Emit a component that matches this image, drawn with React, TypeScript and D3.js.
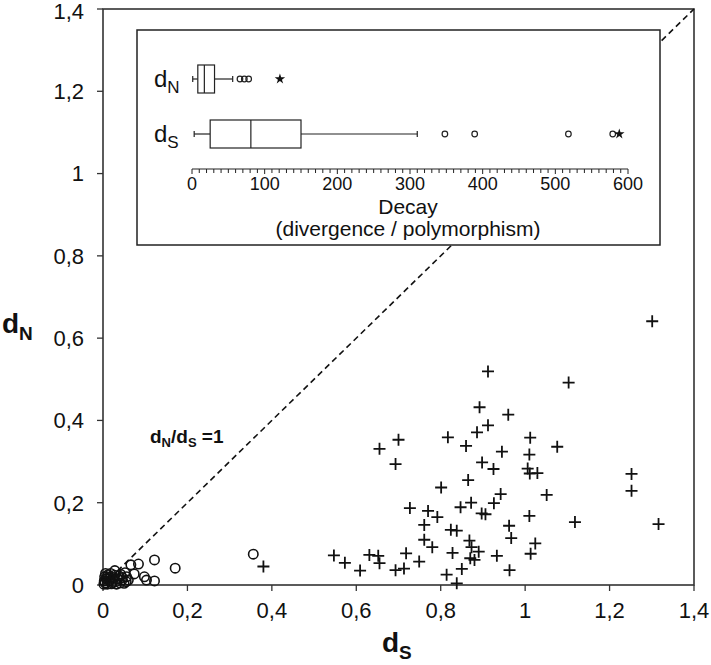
import * as d3 from "d3";

// main scatter: [dS, dN]
const axisTicks = [0, 0.2, 0.4, 0.6, 0.8, 1, 1.2, 1.4];

const circlePoints: [number, number][] = [
  [0.356, 0.075], [0.171, 0.041], [0.122, 0.061], [0.084, 0.051], [0.066, 0.049],
  [0.028, 0.035], [0.074, 0.027], [0.052, 0.030], [0.098, 0.020], [0.103, 0.012],
  [0.122, 0.010], [0.060, 0.012], [0.056, 0.020], [0.005, 0.005], [0.010, 0.020],
  [0.015, 0.010], [0.020, 0.003], [0.008, 0.015], [0.012, 0.025], [0.025, 0.018],
  [0.030, 0.008], [0.035, 0.015], [0.040, 0.005], [0.045, 0.012], [0.050, 0.004],
  [0.003, 0.010], [0.018, 0.028], [0.022, 0.006], [0.006, 0.028], [0.028, 0.024],
  [0.038, 0.022], [0.042, 0.026], [0.055, 0.008], [0.010, 0.002], [0.015, 0.018],
  [0.002, 0.002], [0.032, 0.002], [0.004, 0.020], [0.020, 0.014], [0.046, 0.018],
];

const crossPoints: [number, number][] = [
  [1.301, 0.641], [0.912, 0.519], [1.103, 0.492], [0.892, 0.432], [0.960, 0.414],
  [0.912, 0.388], [0.886, 0.371], [0.817, 0.359], [1.012, 0.358], [0.700, 0.353],
  [0.860, 0.338], [1.076, 0.336], [0.655, 0.331], [0.945, 0.324], [1.010, 0.317],
  [0.693, 0.294], [0.898, 0.298], [0.925, 0.282], [1.006, 0.283], [1.011, 0.271],
  [1.029, 0.272], [1.252, 0.270], [0.865, 0.255], [0.801, 0.237], [1.252, 0.229],
  [0.942, 0.221], [1.051, 0.219], [0.926, 0.199], [0.872, 0.200], [0.727, 0.187],
  [0.847, 0.189], [0.770, 0.180], [0.897, 0.174], [0.906, 0.172], [0.792, 0.165],
  [1.010, 0.168], [0.761, 0.146], [0.962, 0.144], [0.824, 0.134], [0.838, 0.132],
  [1.118, 0.153], [1.316, 0.148], [0.967, 0.114], [0.761, 0.110], [0.780, 0.092],
  [0.868, 0.108], [1.024, 0.101], [0.873, 0.092], [0.890, 0.081], [0.828, 0.078],
  [0.718, 0.077], [1.013, 0.076], [0.933, 0.071], [0.870, 0.065], [0.880, 0.061],
  [0.631, 0.073], [0.652, 0.071], [0.655, 0.053], [0.547, 0.072], [0.573, 0.054],
  [0.609, 0.035], [0.693, 0.036], [0.713, 0.040], [0.749, 0.057], [0.850, 0.039],
  [0.814, 0.025], [0.838, 0.004], [0.963, 0.036], [0.380, 0.045],
];

// inset box plot of decay
const boxCategories = ["N", "S"];
const boxMin = [1, 3];
const boxQ1 = [8, 25];
const boxMedian = [17, 81];
const boxQ3 = [31, 150];
const boxMax = [56, 310];
const boxOutliers = [[66, 72, 78], [348, 389, 518, 579]];
const boxExtremes = [[121], [588]];
const decayTicks = [0, 100, 200, 300, 400, 500, 600];

const font = "'Liberation Sans', Arial, sans-serif";

export default function App() {
  const x = d3.scaleLinear().domain([0, 1.4]).range([103, 694]);
  const y = d3.scaleLinear().domain([0, 1.4]).range([585, 9]);
  const fmt = (v: number) => d3.format("~g")(v).replace(".", ",");

  const xi = d3.scaleLinear().domain([0, 600]).range([192, 628]);
  const boxY = [79, 134];
  const boxH = 28;
  const insetAxisY = 169;
  const minorTicks = d3.range(0, 601, 10);
  const star = d3.symbol().type(d3.symbolStar).size(34)();

  return (
    <svg width={711} height={665} style={{ position: "absolute", left: 0, top: 0, background: "#fff", fontFamily: font }}>
      {/* frame */}
      <rect x={x(0)} y={y(1.4)} width={x(1.4) - x(0)} height={y(0) - y(1.4)} fill="none" stroke="#333" strokeWidth={1.6} />

      {/* ticks */}
      {axisTicks.map((t) => (
        <g key={"x" + t}>
          <line x1={x(t)} x2={x(t)} y1={y(0)} y2={y(0) + 6} stroke="#333" strokeWidth={1.3} />
          <text x={x(t)} y={618} fontSize={22} textAnchor="middle" fill="#111" fontFamily={font}>{fmt(t)}</text>
        </g>
      ))}
      {axisTicks.map((t) => (
        <g key={"y" + t}>
          <line x1={x(0) - 6} x2={x(0)} y1={y(t)} y2={y(t)} stroke="#333" strokeWidth={1.3} />
          <text x={84} y={Math.max(y(t), 11)} dy="0.36em" fontSize={22} textAnchor="end" fill="#111" fontFamily={font}>{fmt(t)}</text>
        </g>
      ))}

      {/* axis titles */}
      <text x={382} y={652} fontSize={28} fontWeight="bold" fill="#111" fontFamily={font}>
        d<tspan fontSize={19} dy={7}>S</tspan>
      </text>
      <text x={2} y={333} fontSize={28} fontWeight="bold" fill="#111" fontFamily={font}>
        d<tspan fontSize={19} dy={7}>N</tspan>
      </text>

      {/* dN = dS line */}
      <line x1={x(0)} y1={y(0)} x2={x(1.4)} y2={y(1.4)} stroke="#111" strokeWidth={1.6} strokeDasharray="6,4" />

      {/* points */}
      {circlePoints.map((p, i) => (
        <circle key={"c" + i} cx={x(p[0])} cy={y(p[1])} r={4.7} fill="none" stroke="#111" strokeWidth={1.6} />
      ))}
      {crossPoints.map((p, i) => (
        <path key={"p" + i} transform={`translate(${x(p[0])},${y(p[1])})`} d="M-6,0H6M0,-6V6" stroke="#111" strokeWidth={1.8} />
      ))}

      <text x={150} y={443} fontSize={19} fontWeight="bold" fill="#111" fontFamily={font}>
        d<tspan fontSize={13} dy={4}>N</tspan>
        <tspan dy={-4}>/d</tspan>
        <tspan fontSize={13} dy={4}>S</tspan>
        <tspan dy={-4}> =1</tspan>
      </text>

      {/* inset */}
      <rect x={137} y={30} width={523} height={215} fill="#fff" stroke="#222" strokeWidth={1.5} />
      {boxCategories.map((c, i) => {
        const cy = boxY[i];
        return (
          <g key={"b" + c}>
            <g stroke="#222" strokeWidth={1.2} fill="none">
              <line x1={xi(boxMin[i])} x2={xi(boxQ1[i])} y1={cy} y2={cy} />
              <line x1={xi(boxQ3[i])} x2={xi(boxMax[i])} y1={cy} y2={cy} />
              <line x1={xi(boxMin[i])} x2={xi(boxMin[i])} y1={cy - 3} y2={cy + 3} />
              <line x1={xi(boxMax[i])} x2={xi(boxMax[i])} y1={cy - 3} y2={cy + 3} />
              <rect x={xi(boxQ1[i])} y={cy - boxH / 2} width={xi(boxQ3[i]) - xi(boxQ1[i])} height={boxH} fill="#fff" />
              <line x1={xi(boxMedian[i])} x2={xi(boxMedian[i])} y1={cy - boxH / 2} y2={cy + boxH / 2} />
              {boxOutliers[i].map((o) => (
                <circle key={o} cx={xi(o)} cy={cy} r={2.8} />
              ))}
            </g>
            {boxExtremes[i].map((o) => (
              <path key={o} d={star || ""} transform={`translate(${xi(o)},${cy})`} fill="#111" />
            ))}
            <text x={154} y={cy + 8} fontSize={24} fill="#111" fontFamily={font}>
              d<tspan fontSize={17} dy={6}>{c}</tspan>
            </text>
          </g>
        );
      })}
      <line x1={xi(0)} x2={xi(600)} y1={insetAxisY} y2={insetAxisY} stroke="#222" strokeWidth={1.2} />
      {minorTicks.map((t) => (
        <line key={"m" + t} x1={xi(t)} x2={xi(t)} y1={insetAxisY} y2={insetAxisY + (t % 100 === 0 ? 5 : 4)} stroke="#222" strokeWidth={1} />
      ))}
      {decayTicks.map((t) => (
        <text key={"d" + t} x={xi(t)} y={190} fontSize={18} textAnchor="middle" fill="#111" fontFamily={font}>{t}</text>
      ))}
      <text x={408} y={214} fontSize={21} textAnchor="middle" fill="#111" fontFamily={font}>Decay</text>
      <text x={408} y={236} fontSize={21} textAnchor="middle" fill="#111" fontFamily={font}>(divergence / polymorphism)</text>
    </svg>
  );
}
